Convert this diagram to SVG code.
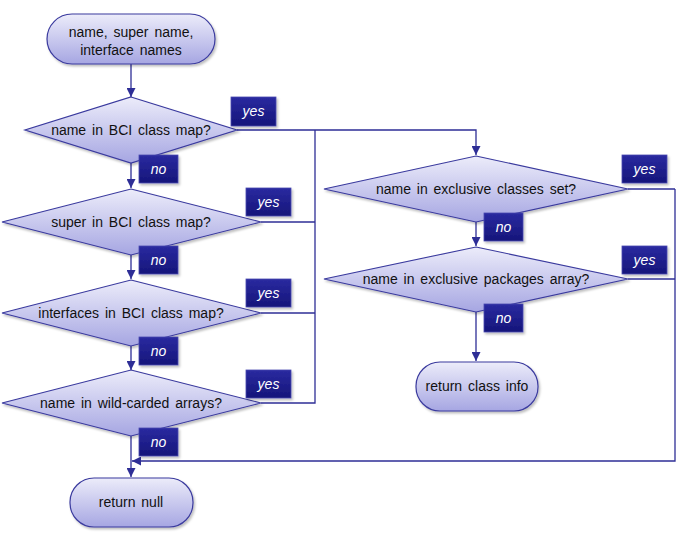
<svg xmlns="http://www.w3.org/2000/svg" width="680" height="542" viewBox="0 0 680 542">
<defs>
<linearGradient id="gNode" x1="0" y1="0" x2="0" y2="1">
<stop offset="0" stop-color="#ececfa"/>
<stop offset="1" stop-color="#a6a6e2"/>
</linearGradient>
<linearGradient id="gLab" x1="0" y1="0" x2="0" y2="1">
<stop offset="0" stop-color="#2a2aa0"/>
<stop offset="1" stop-color="#15157a"/>
</linearGradient>
<filter id="sh" x="-10%" y="-10%" width="130%" height="140%">
<feDropShadow dx="1.5" dy="2" stdDeviation="1.2" flood-color="#000" flood-opacity="0.25"/>
</filter>
<marker id="ah" viewBox="0 0 10 10" refX="10" refY="5" markerWidth="9" markerHeight="9" markerUnits="userSpaceOnUse" orient="auto">
<path d="M0,0 L10,5 L0,10 z" fill="#2e2e96"/>
</marker>
</defs>
<style>
.n{fill:url(#gNode);stroke:#3a3a9e;stroke-width:1.2;filter:url(#sh)}
.t{font-family:"Liberation Sans",Arial,sans-serif;font-size:14px;fill:#111;text-anchor:middle;word-spacing:2px}
.c{fill:none;stroke:#2e2e96;stroke-width:1.3}
.lb{fill:url(#gLab);stroke:#4a4ab0;stroke-width:0.8;filter:url(#sh)}
.lt{font-family:"Liberation Sans",Arial,sans-serif;font-size:14px;font-style:italic;fill:#fff;text-anchor:middle}
</style>
<rect width="680" height="542" fill="#fff"/>
<g id="connectors">
<path class="c" d="M131,64 V97" marker-end="url(#ah)"/>
<path class="c" d="M131,163 V188" marker-end="url(#ah)"/>
<path class="c" d="M131,255 V279" marker-end="url(#ah)"/>
<path class="c" d="M131,346 V370" marker-end="url(#ah)"/>
<path class="c" d="M131,436 V477" marker-end="url(#ah)"/>
<path class="c" d="M237,130 H476 V155" marker-end="url(#ah)"/>
<path class="c" d="M261,222 H315"/>
<path class="c" d="M261,313 H315"/>
<path class="c" d="M261,403 H315 V130"/>
<path class="c" d="M476,222 V246" marker-end="url(#ah)"/>
<path class="c" d="M476,312 V361" marker-end="url(#ah)"/>
<path class="c" d="M628,189 H675"/>
<path class="c" d="M628,279 H675"/>
<path class="c" d="M675,189 V461 H132" marker-end="url(#ah)"/>
</g>
<g id="start">
<rect class="n" x="47" y="14" width="168" height="50" rx="25"/>
<text class="t" x="131" y="37">name, super name,</text>
<text class="t" x="131" y="55">interface names</text>
</g>
<g id="d1">
<polygon class="n" points="131,97 237,130 131,163 25,130"/>
<text class="t" x="131" y="135">name in BCI class map?</text>
</g>
<g id="d2">
<polygon class="n" points="131,189 261,222 131,255 2,222"/>
<text class="t" x="131" y="227">super in BCI class map?</text>
</g>
<g id="d3">
<polygon class="n" points="131,280 261,313 131,346 2,313"/>
<text class="t" x="131" y="318">interfaces in BCI class map?</text>
</g>
<g id="d4">
<polygon class="n" points="131,370 261,403 131,436 2,403"/>
<text class="t" x="131" y="408">name in wild-carded arrays?</text>
</g>
<g id="returnNull">
<rect class="n" x="70" y="478" width="123" height="49" rx="24"/>
<text class="t" x="131" y="507">return null</text>
</g>
<g id="d5">
<polygon class="n" points="476,156 628,189 476,222 324,189"/>
<text class="t" x="476" y="194">name in exclusive classes set?</text>
</g>
<g id="d6">
<polygon class="n" points="476,247 628,279 476,312 324,279"/>
<text class="t" x="476" y="284">name in exclusive packages array?</text>
</g>
<g id="returnClassInfo">
<rect class="n" x="416" y="362" width="122" height="49" rx="24"/>
<text class="t" x="477" y="391">return class info</text>
</g>
<g id="labels">
<rect class="lb" x="231" y="97" width="45" height="29"/><text class="lt" x="253.5" y="116">yes</text>
<rect class="lb" x="139" y="155" width="39" height="28"/><text class="lt" x="158.5" y="174">no</text>
<rect class="lb" x="246" y="188" width="45" height="28"/><text class="lt" x="268.5" y="207">yes</text>
<rect class="lb" x="139" y="246" width="39" height="28"/><text class="lt" x="158.5" y="265">no</text>
<rect class="lb" x="246" y="279" width="45" height="28"/><text class="lt" x="268.5" y="298">yes</text>
<rect class="lb" x="139" y="337" width="39" height="28"/><text class="lt" x="158.5" y="356">no</text>
<rect class="lb" x="246" y="370" width="45" height="28"/><text class="lt" x="268.5" y="389">yes</text>
<rect class="lb" x="139" y="428" width="39" height="28"/><text class="lt" x="158.5" y="447">no</text>
<rect class="lb" x="622" y="155" width="45" height="28"/><text class="lt" x="644.5" y="174">yes</text>
<rect class="lb" x="484" y="213" width="39" height="28"/><text class="lt" x="503.5" y="232">no</text>
<rect class="lb" x="622" y="246" width="45" height="28"/><text class="lt" x="644.5" y="265">yes</text>
<rect class="lb" x="484" y="304" width="39" height="28"/><text class="lt" x="503.5" y="323">no</text>
</g>
</svg>
